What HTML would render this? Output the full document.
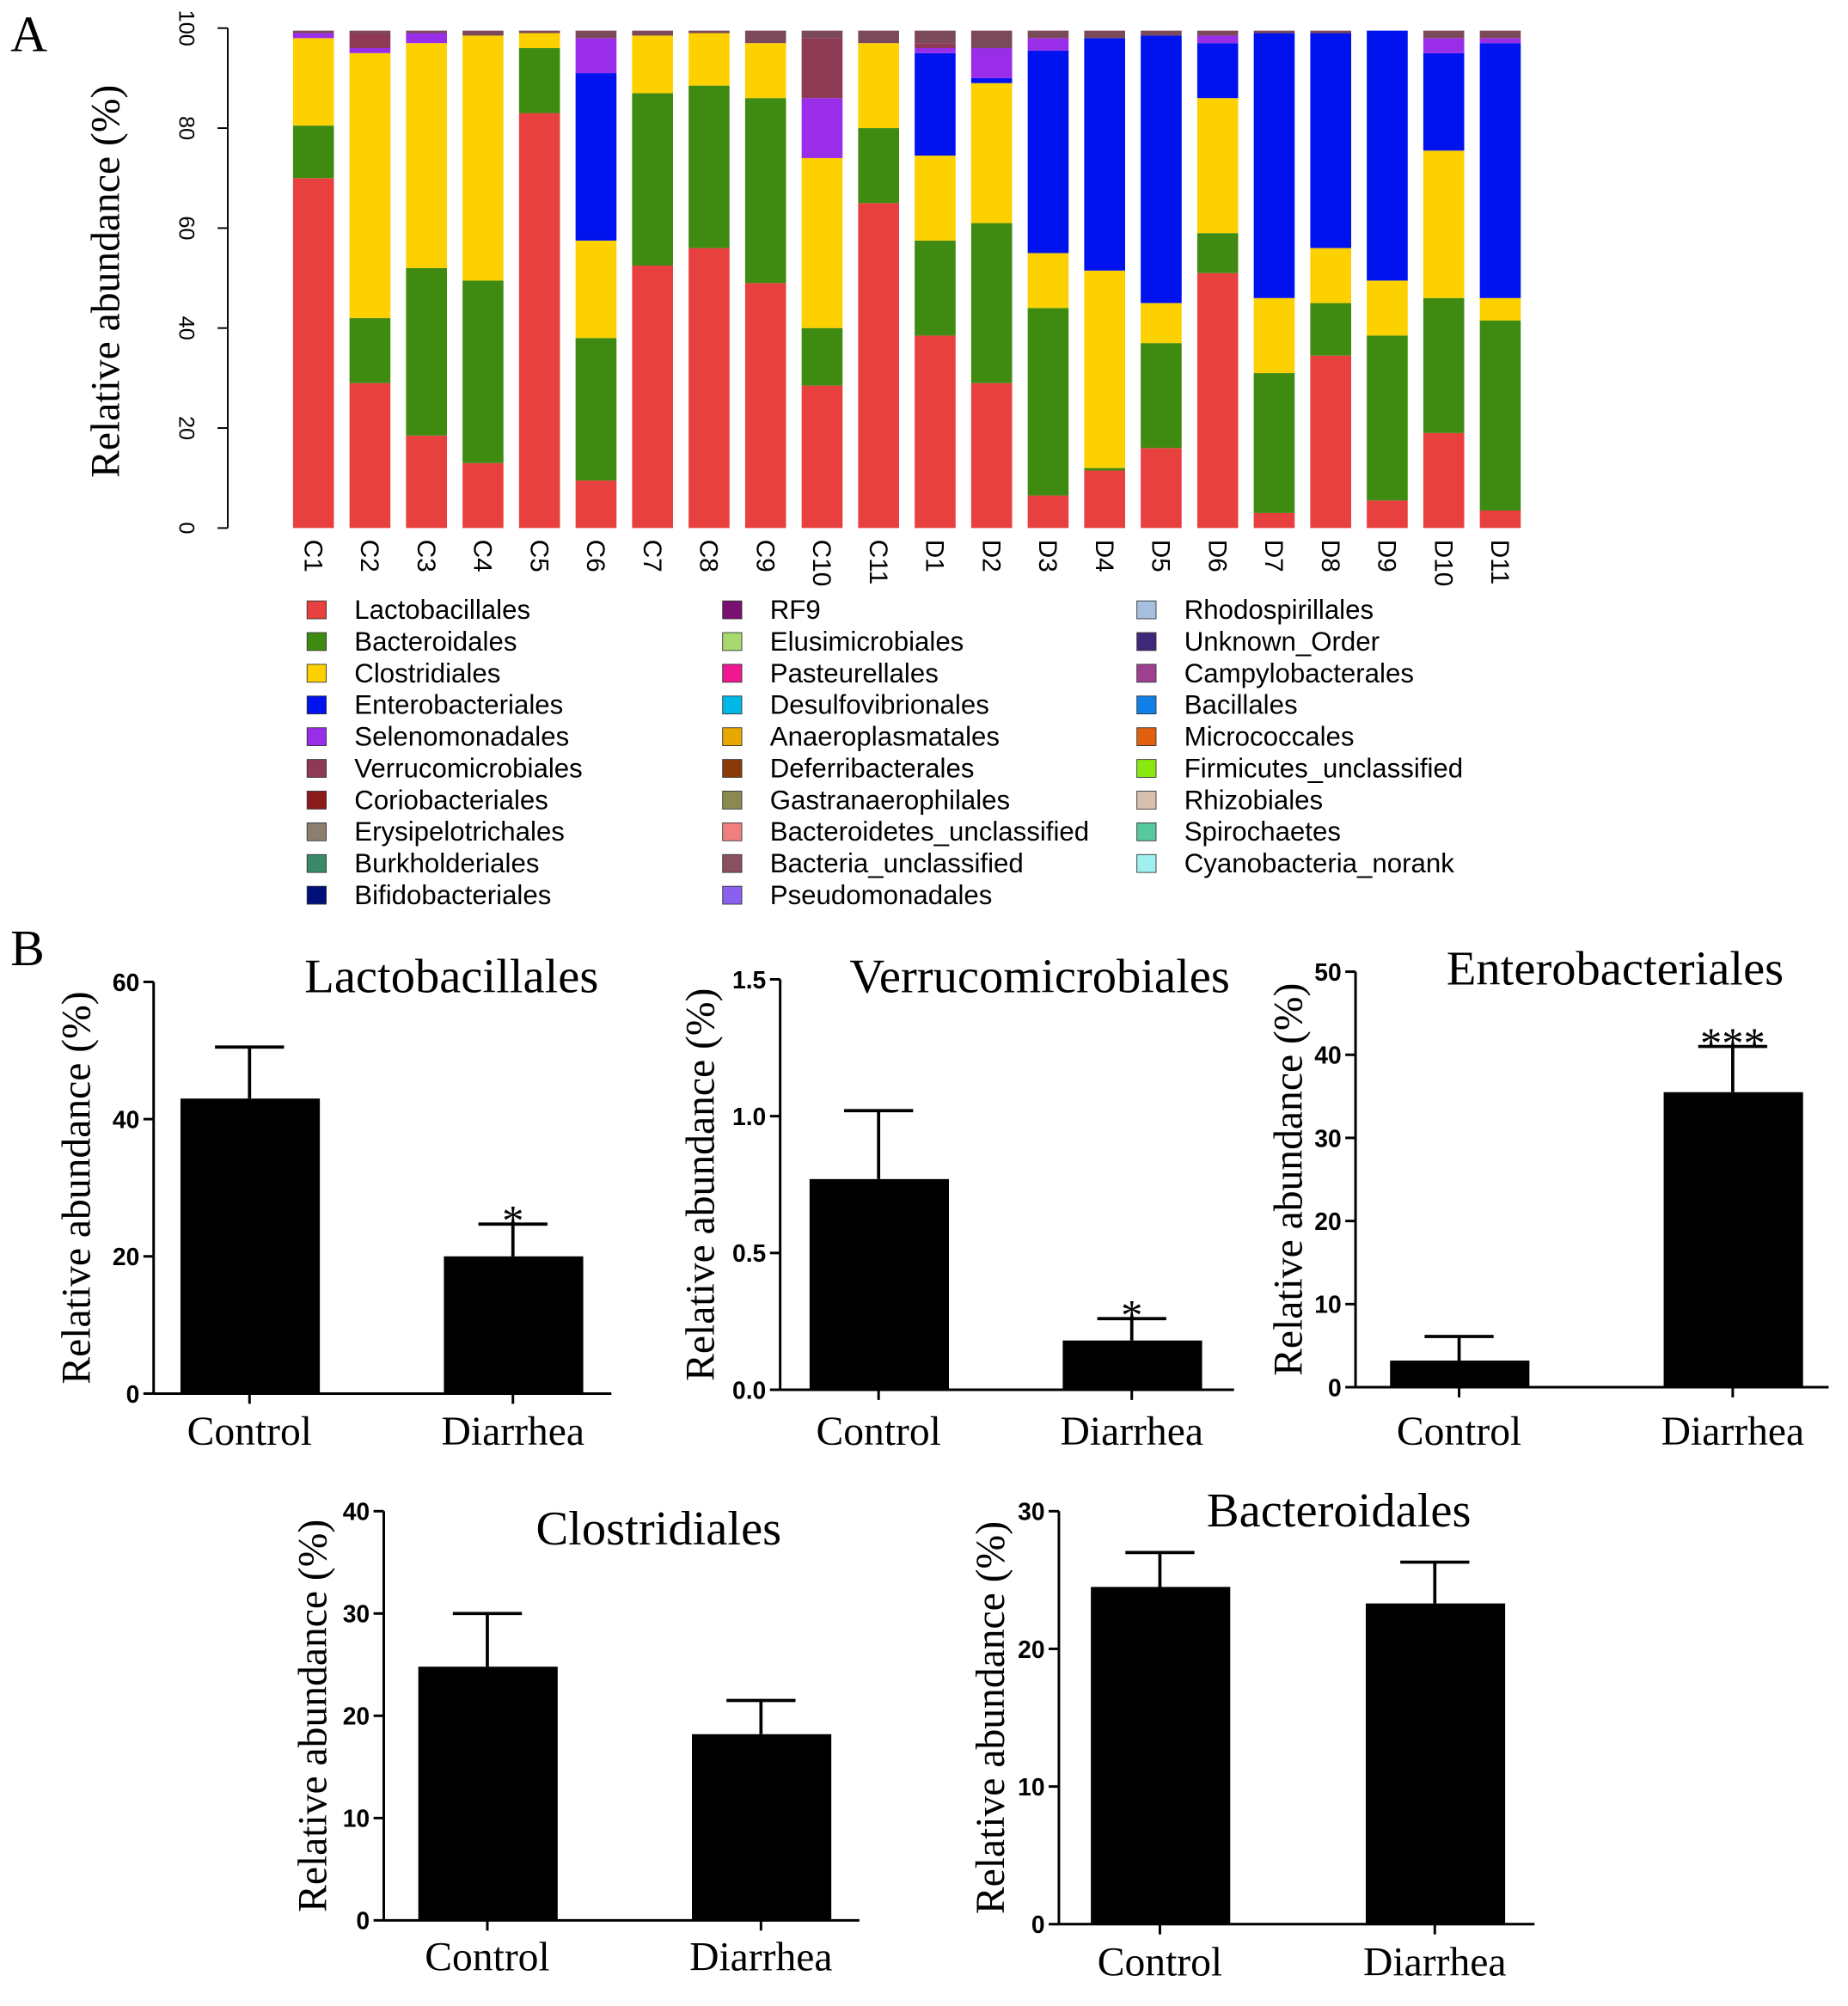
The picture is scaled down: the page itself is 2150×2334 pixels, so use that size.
<!DOCTYPE html>
<html><head><meta charset="utf-8"><style>
html,body{margin:0;padding:0;background:#fff}
svg{display:block}
.sans{font-family:"Liberation Sans",Arial,sans-serif}
.serif{font-family:"Liberation Serif","Times New Roman",serif}
</style></head><body>
<svg id="fig" width="2150" height="2334" viewBox="0 0 1445 1569" xmlns="http://www.w3.org/2000/svg">
<rect width="1445" height="1569" fill="#fff"/>
<text class="serif" x="8" y="40" font-size="40">A</text>
<text class="serif" x="8" y="755" font-size="40">B</text>
<g id="topchart"></g>
<g id="legend"></g>
<g id="bottom"></g>
</svg>
<script>
const NS="http://www.w3.org/2000/svg";
const samples=["C1","C2","C3","C4","C5","C6","C7","C8","C9","C10","C11","D1","D2","D3","D4","D5","D6","D7","D8","D9","D10","D11"];
const lacto=[70,29,18.5,13,83,9.5,52.5,56,49,28.5,65,38.5,29,6.5,11.5,16,51,3,34.5,5.5,19,3.5];
const bactero=[10.5,13,33.5,36.5,13,28.5,34.5,32.5,37,11.5,15,19,32,37.5,0.5,21,8,28,10.5,33,27,38];
const clostri=[17.5,53,45,49,3,19.5,11.5,10.5,11,34,17,17,28,11,39.5,8,27,15,11,11,29.5,4.5];
const entero=[0,0,0,0,0,33.5,0,0,0,0,0,20.5,1,40.5,46.5,53.5,11,53,43,50,19.5,51];
const seleno=[1,1,2,0,0,7,0,0,0,12,0,1,6,2.5,0,0,1.5,0,0,0,3,1];
const verruco=[0,3,0,0,0,0,0,0,0,12,0,1,0,0,0,0,0,0,0,0,0,0];
const seriesColors=["#e8403e","#3f8a10","#fdd000","#0013ee","#9a2de8","#8e3a55"];
const yTicksTop=[0,20,40,60,80,100];

function el(tag,attrs,parent,text){const e=document.createElementNS(NS,tag);for(const k in attrs)e.setAttribute(k,attrs[k]);if(text!==undefined)e.textContent=text;parent.appendChild(e);return e;}

const topG=document.getElementById('topchart');
const ty=v=>413-(v/100)*391;
const tx=i=>245+i*44.2;
const axT=el('line',{x1:178,y1:22,x2:178,y2:413,stroke:'#000','stroke-width':1.3},topG);

yTicksTop.forEach(v=>{
  const l=el('line',{x1:170,y1:ty(v),x2:178,y2:ty(v),stroke:'#000','stroke-width':1.3},topG);
  
  const t=el('text',{x:0,y:0,transform:`translate(140,${ty(v)}) rotate(90)`,'text-anchor':'middle','font-size':17,class:'sans'},topG,String(v));
  
});
const ytTitle=el('text',{transform:'translate(93,220) rotate(-90)','text-anchor':'middle','font-size':32,class:'serif'},topG,'Relative abundance (%)');

const allSeries=[lacto,bactero,clostri,entero,seleno,verruco];
samples.forEach((s,i)=>{
  let cum=0;
  allSeries.forEach((arr,k)=>{
    const v=arr[i];if(v<=0)return;
    const r=el('rect',{x:tx(i)-16,y:ty(cum+v),width:32,height:ty(cum)-ty(cum+v),fill:seriesColors[k]},topG);
    
    cum+=v;
  });
  const rest=Math.max(0,99.5-cum);
  if(rest>0){const r=el('rect',{x:tx(i)-16,y:ty(cum+rest),width:32,height:ty(cum)-ty(cum+rest),fill:'#7a4a5a'},topG);
    }
  const t=el('text',{transform:`translate(${tx(i)-7},422) rotate(90)`,'font-size':20,class:'sans'},topG,s);
  
});

const legendNames=[["Lactobacillales","Bacteroidales","Clostridiales","Enterobacteriales","Selenomonadales","Verrucomicrobiales","Coriobacteriales","Erysipelotrichales","Burkholderiales","Bifidobacteriales"],
["RF9","Elusimicrobiales","Pasteurellales","Desulfovibrionales","Anaeroplasmatales","Deferribacterales","Gastranaerophilales","Bacteroidetes_unclassified","Bacteria_unclassified","Pseudomonadales"],
["Rhodospirillales","Unknown_Order","Campylobacterales","Bacillales","Micrococcales","Firmicutes_unclassified","Rhizobiales","Spirochaetes","Cyanobacteria_norank"]];
const legendColors=[["#e8403e","#3f8a10","#fdd000","#0013ee","#9a2de8","#8e3a55","#8b1a1a","#8c7f70","#3a8a6a","#00107a"],
["#7a1070","#a8d870","#f01890","#00b8e8","#e8a800","#8a3a08","#8a8a50","#f08080","#8a5060","#8a60f0"],
["#a8c0e0","#402878","#a04090","#1080e8","#e06010","#88e810","#d8c0b0","#58c8a0","#a0f0f0"]];
const lg=document.getElementById('legend');
const colX=[240,565,889];
legendNames.forEach((col,c)=>col.forEach((n,r)=>{
  const y=477+r*24.8;
  const sq=el('rect',{x:colX[c],y:y-7,width:15,height:14,fill:legendColors[c][r],stroke:'#333','stroke-width':0.6},lg);
  
  const t=el('text',{x:colX[c]+37,y:y+7,'font-size':21,class:'sans'},lg,n);
  
}));

const groups=["Control","Diarrhea"];
const panelTitles=["Lactobacillales","Verrucomicrobiales","Enterobacteriales","Clostridiales","Bacteroidales"];
const means=[[43,20],[0.77,0.18],[3.2,35.5],[24.8,18.2],[24.5,23.3]];
const errs=[[50.5,24.7],[1.02,0.26],[6.1,41],[30,21.5],[27,26.3]];
const stars=[["","*"],["","*"],["","***"],["",""],["",""]];
const yTicks=[[0,20,40,60],[0,0.5,1.0,1.5],[0,10,20,30,40,50],[0,10,20,30,40],[0,10,20,30]];
const tickFmt=[v=>String(v),v=>v.toFixed(1),v=>String(v),v=>String(v),v=>String(v)];
const layout=[
 {ax:120,y0:1090,yTop:768,xEnd:478,bars:[195,401],tx:353,ty:776,yt:60,cy:1130},
 {ax:610,y0:1087,yTop:766,xEnd:965,bars:[687,885],tx:813,ty:776,yt:548,cy:1130},
 {ax:1060,y0:1085,yTop:760,xEnd:1430,bars:[1141,1355],tx:1263,ty:770,yt:1008,cy:1130},
 {ax:300,y0:1502,yTop:1182,xEnd:672,bars:[381,595],tx:515,ty:1208,yt:245,cy:1541},
 {ax:828,y0:1505,yTop:1182,xEnd:1200,bars:[907,1122],tx:1047,ty:1194,yt:775,cy:1545}];
const bot=document.getElementById('bottom');
panelTitles.forEach((title,p)=>{
  const L=layout[p];const ticks=yTicks[p];const maxV=ticks[ticks.length-1];
  const y=v=>L.y0-(v/maxV)*(L.y0-L.yTop);
  const g=el('g',{},bot);
  const a=el('line',{x1:L.ax,y1:L.yTop,x2:L.ax,y2:L.y0,stroke:'#000','stroke-width':2},g);
  
  const xa=el('line',{x1:L.ax,y1:L.y0,x2:L.xEnd,y2:L.y0,stroke:'#000','stroke-width':2},g);
  
  ticks.forEach(v=>{
    const l=el('line',{x1:L.ax-8,y1:y(v),x2:L.ax,y2:y(v),stroke:'#000','stroke-width':2},g);
    
    const t=el('text',{x:L.ax-11,y:y(v)+7,'text-anchor':'end','font-size':19,'font-weight':'bold',class:'sans'},g,tickFmt[p](v));
    
  });
  const tt=el('text',{x:L.tx,y:L.ty,'text-anchor':'middle','font-size':38,class:'serif'},g,title);
  
  const yl=el('text',{transform:`translate(${L.yt+10},${(L.y0+L.yTop)/2}) rotate(-90)`,'text-anchor':'middle','font-size':32,class:'serif'},g,'Relative abundance (%)');
  
  groups.forEach((gr,i)=>{
    const cx=L.bars[i];
    const eb=el('line',{x1:cx,y1:y(means[p][i]),x2:cx,y2:y(errs[p][i]),stroke:'#000','stroke-width':2.5},g);
    
    const cap=el('line',{x1:cx-27,y1:y(errs[p][i]),x2:cx+27,y2:y(errs[p][i]),stroke:'#000','stroke-width':2.5},g);
    
    const b=el('rect',{x:cx-54,y:y(means[p][i]),width:109,height:L.y0-y(means[p][i]),fill:'#000'},g);
    
    const tk=el('line',{x1:cx,y1:L.y0,x2:cx,y2:L.y0+8,stroke:'#000','stroke-width':2},g);
    
    const lb=el('text',{x:cx,y:L.cy,'text-anchor':'middle','font-size':32,class:'serif'},g,gr);
    
    if(stars[p][i]){const st=el('text',{x:cx,y:y(errs[p][i])+9,'text-anchor':'middle','font-size':34,class:'serif'},g,stars[p][i]);
      }
  });
});
</script>
</body></html>
